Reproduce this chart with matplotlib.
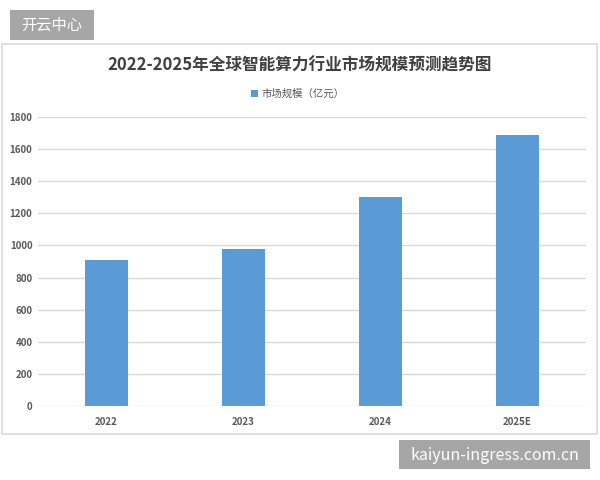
import matplotlib
matplotlib.use("Agg")
import matplotlib.pyplot as plt
from matplotlib.patches import Rectangle

plt.rcParams['font.family'] = ['Noto Sans CJK SC', 'DejaVu Sans']

# data
years = ["2022", "2023", "2024", "2025E"]
market_size = [910, 980, 1300, 1690]
y_ticks = [0, 200, 400, 600, 800, 1000, 1200, 1400, 1600, 1800]

title = "2022-2025年全球智能算力行业市场规模预测趋势图"
series_name = "市场规模（亿元）"

W, H = 600, 480
fig = plt.figure(figsize=(6, 4.8), dpi=100)


def px_rect(x0, y0, x1, y1, **kw):
    # rectangle given in image pixel coords (origin top-left)
    r = Rectangle((x0 / W, 1 - y1 / H), (x1 - x0) / W, (y1 - y0) / H,
                  transform=fig.transFigure, **kw)
    fig.patches.append(r)


# chart frame (behind the axes)
px_rect(2, 44, 597, 434, facecolor="white", edgecolor="#d9d9d9", lw=1.2,
        zorder=-5)

ax = fig.add_axes([38 / W, 1 - 406 / H, (586 - 38) / W, (406 - 117) / H])
ax.set_facecolor("none")

bars = ax.bar(range(len(years)), market_size, width=0.31, color="#5b9bd5",
              label=series_name, zorder=3)

ax.set_xlim(-0.5, len(years) - 0.5)
ax.set_ylim(0, 1800)
ax.set_yticks(y_ticks)
ax.set_xticks(range(len(years)))
ax.set_xticklabels(years)
ax.grid(axis="y", color="#d9d9d9", lw=1, zorder=0)
for s in ax.spines.values():
    s.set_visible(False)
ax.tick_params(length=0, labelsize=7, labelcolor="#595959")
for lbl in ax.get_xticklabels() + ax.get_yticklabels():
    lbl.set_fontweight("bold")
ax.tick_params(axis="y", pad=4)
ax.tick_params(axis="x", pad=8)

# title + legend
fig.text(300 / W, 1 - 65 / H, title, ha="center", va="center",
         fontsize=12, fontweight="bold", color="#404040")
px_rect(251, 90, 258, 97, facecolor="#5b9bd5", edgecolor="none")
fig.text(262 / W, 1 - 93.5 / H, series_name, ha="left", va="center",
         fontsize=7.5, color="#595959")

# watermarks
px_rect(10, 10, 94, 40, facecolor="#a6a6a6", edgecolor="none")
fig.text(52 / W, 1 - 25 / H, "开云中心", ha="center", va="center",
         fontsize=11, color="white")
px_rect(399, 440, 590, 469, facecolor="#a6a6a6", edgecolor="none")
fig.text(494.5 / W, 1 - 455 / H, "kaiyun-ingress.com.cn", ha="center",
         va="center", fontsize=11.5, color="white")

fig.savefig("out.png", dpi=100)
